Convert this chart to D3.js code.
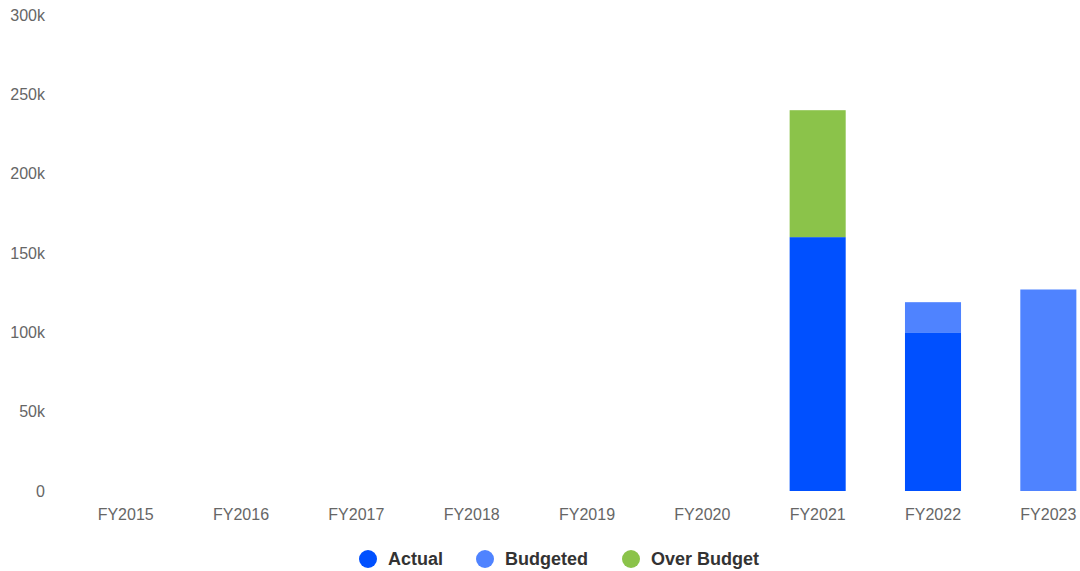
<!DOCTYPE html>
<html>
<head>
<meta charset="utf-8">
<script src="https://cdn.jsdelivr.net/npm/d3@7"></script>
<style>
  body { margin: 0; background: #fff; }
  text { font-family: "Liberation Sans", Arial, sans-serif; }
</style>
</head>
<body>
<div class="canvas"></div>
<script>
const years = ['FY2015', 'FY2016', 'FY2017', 'FY2018', 'FY2019', 'FY2020', 'FY2021', 'FY2022', 'FY2023']
const actual = [0, 0, 0, 0, 0, 0, 160000, 100000, 0]
const budgeted = [0, 0, 0, 0, 0, 0, 0, 19000, 127000]
const overBudget = [0, 0, 0, 0, 0, 0, 80000, 0, 0]
const yTicks = [0, 50000, 100000, 150000, 200000, 250000, 300000]

const seriesNames = ['Actual', 'Budgeted', 'Over Budget']
const colors = ['#0050ff', '#4f83ff', '#8bc34a']

const rows = years.map((y, i) => ({
  year: y,
  'Actual': actual[i],
  'Budgeted': budgeted[i],
  'Over Budget': overBudget[i]
}))

const svg = d3.select('.canvas')
              .append('svg')
              .attr('width', 1080)
              .attr('height', 571)

const x = d3.scaleBand()
  .domain(years)
  .range([68, 1106])
  .paddingInner(0.514)
  .paddingOuter(0.257)

const y = d3.scaleLinear()
  .domain([0, 300000])
  .range([491, 15])

const color = d3.scaleOrdinal().domain(seriesNames).range(colors)

const stack = d3.stack().keys(seriesNames)
const layers = stack(rows)

// bars
svg.append('g')
  .selectAll('g')
  .data(layers)
  .enter()
  .append('g')
    .attr('fill', d => color(d.key))
  .selectAll('rect')
  .data(d => d)
  .enter()
  .append('rect')
    .attr('x', d => x(d.data.year))
    .attr('width', x.bandwidth())
    .attr('y', d => y(d[1]))
    .attr('height', d => y(d[0]) - y(d[1]))

// y axis
const yAxis = d3.axisLeft(y)
  .tickValues(yTicks)
  .tickSize(0)
  .tickPadding(0)
  .tickFormat(d => d === 0 ? '0' : d / 1000 + 'k')

const yG = svg.append('g').attr('transform', 'translate(45,0)').call(yAxis)
yG.select('.domain').remove()
yG.selectAll('text')
  .attr('fill', '#666')
  .attr('font-size', 16)
  .attr('font-family', '"Liberation Sans", Arial, sans-serif')

// x axis
const xAxis = d3.axisBottom(x).tickSize(0).tickPadding(0)
const xG = svg.append('g').attr('transform', 'translate(0,509)').call(xAxis)
xG.select('.domain').remove()
xG.selectAll('text')
  .attr('fill', '#666')
  .attr('font-size', 16)
  .attr('font-family', '"Liberation Sans", Arial, sans-serif')

// legend
const legendX = [368, 485, 631]
const legend = svg.append('g')
  .selectAll('g')
  .data(seriesNames)
  .enter()
  .append('g')
    .attr('transform', (d, i) => `translate(${legendX[i]}, 559)`)

legend.append('circle')
  .attr('r', 9)
  .attr('fill', d => color(d))

legend.append('text')
  .attr('x', 20)
  .attr('dy', '0.35em')
  .attr('font-size', 18)
  .attr('font-weight', 'bold')
  .attr('fill', '#333')
  .text(d => d)
</script>
</body>
</html>
